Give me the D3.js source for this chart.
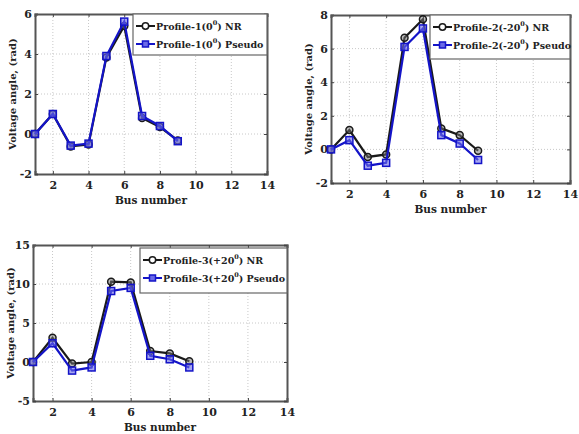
<!DOCTYPE html>
<html>
<head>
<meta charset="utf-8">
<script src="https://cdn.jsdelivr.net/npm/d3@7"></script>
<style>
  body { margin: 0; background: #fff; }
  svg text { font-family: "DejaVu Serif", "Liberation Serif", serif !important; font-weight: bold !important; }
</style>
</head>
<body>
<div id="chart"></div>
<script>
const svgWidth = 579;
const svgHeight = 434;

// bus numbers (shared by all three profiles)
const buses = [1, 2, 3, 4, 5, 6, 7, 8, 9];
const xTicks = [2, 4, 6, 8, 10, 12, 14];

// Profile-1 (0 deg)
const p1NR     = [0, 1.0, -0.62, -0.53, 3.83, 5.4, 0.8, 0.35, -0.32];
const p1Pseudo = [0, 1.0, -0.58, -0.48, 3.9, 5.62, 0.9, 0.4, -0.36];
const p1Ticks  = [-2, 0, 2, 4, 6];

// Profile-2 (-20 deg)
const p2NR     = [0, 1.15, -0.45, -0.3, 6.65, 7.75, 1.25, 0.85, -0.08];
const p2Pseudo = [0, 0.55, -0.97, -0.8, 6.1, 7.2, 0.85, 0.35, -0.63];
const p2Ticks  = [-2, 0, 2, 4, 6, 8];

// Profile-3 (+20 deg)
const p3NR     = [0, 3.1, -0.2, 0, 10.3, 10.2, 1.4, 1.1, 0.1];
const p3Pseudo = [0, 2.4, -1.1, -0.7, 9.1, 9.5, 0.8, 0.35, -0.7];
const p3Ticks  = [-5, 0, 5, 10, 15];

const svg = d3.select("#chart")
  .append("svg")
  .attr("width", svgWidth)
  .attr("height", svgHeight);

const nrColor = "#1a1a1a";
const psColor = "#1414c8";

function drawPanel(opt) {
  const x = d3.scaleLinear().domain([1, 14]).range([opt.left, opt.right]);
  const y = d3.scaleLinear().domain(opt.yDomain).range([opt.bottom, opt.top]);
  const g = svg.append("g");

  // dotted grid
  g.selectAll(".gx").data(xTicks.filter(d => d < 14))
    .enter().append("line")
    .attr("x1", d => x(d)).attr("x2", d => x(d))
    .attr("y1", opt.top).attr("y2", opt.bottom)
    .attr("stroke", "#c8c8c8").attr("stroke-width", 1)
    .attr("stroke-dasharray", "1,2");
  g.selectAll(".gy").data(opt.yTicks.slice(1, -1))
    .enter().append("line")
    .attr("x1", opt.left).attr("x2", opt.right)
    .attr("y1", d => y(d)).attr("y2", d => y(d))
    .attr("stroke", "#c8c8c8").attr("stroke-width", 1)
    .attr("stroke-dasharray", "1,2");

  // axes (plain hyphen for negatives, like the original)
  const fmt = d => String(d);
  const bottomAxis = d3.axisBottom(x).tickValues(xTicks).tickSize(-3).tickPadding(7).tickFormat(fmt);
  const leftAxis = d3.axisLeft(y).tickValues(opt.yTicks).tickSize(-3).tickPadding(3).tickFormat(fmt);
  const topAxis = d3.axisTop(x).tickValues(xTicks).tickSize(-3).tickFormat("");
  const rightAxis = d3.axisRight(y).tickValues(opt.yTicks).tickSize(-3).tickFormat("");

  [
    g.append("g").attr("transform", `translate(0, ${opt.bottom})`).call(bottomAxis),
    g.append("g").attr("transform", `translate(${opt.left}, 0)`).call(leftAxis),
    g.append("g").attr("transform", `translate(0, ${opt.top})`).call(topAxis),
    g.append("g").attr("transform", `translate(${opt.right}, 0)`).call(rightAxis)
  ].forEach(a => {
    a.select(".domain").attr("stroke", "#555").attr("stroke-width", 2);
    a.selectAll(".tick line").attr("stroke", "#444");
    a.selectAll("text").attr("font-size", "11px").attr("fill", "#222");
  });

  // series
  const line = d3.line().x((d, i) => x(buses[i])).y(d => y(d));
  const series = [
    { values: opt.nr, color: nrColor, marker: "circle" },
    { values: opt.ps, color: psColor, marker: "square" }
  ];
  series.forEach(s => {
    g.append("path").datum(s.values)
      .attr("d", line).attr("fill", "none")
      .attr("stroke", s.color).attr("stroke-width", 2.2);
    if (s.marker === "circle") {
      g.selectAll(null).data(s.values).enter().append("circle")
        .attr("cx", (d, i) => x(buses[i])).attr("cy", d => y(d))
        .attr("r", 3.5).attr("fill", "#777").attr("fill-opacity", 0.5)
        .attr("stroke", s.color).attr("stroke-width", 1.5);
    } else {
      g.selectAll(null).data(s.values).enter().append("rect")
        .attr("x", (d, i) => x(buses[i]) - 3.5).attr("y", d => y(d) - 3.5)
        .attr("width", 7).attr("height", 7)
        .attr("fill", "#6a6ae8").attr("fill-opacity", 0.6)
        .attr("stroke", s.color).attr("stroke-width", 1.5);
    }
  });

  // legend
  const lg = g.append("g");
  lg.append("rect")
    .attr("x", opt.legend.x).attr("y", opt.legend.y)
    .attr("width", opt.legend.w).attr("height", opt.legend.h)
    .attr("fill", "#fff").attr("stroke", "#666").attr("stroke-width", 1.2);
  opt.legend.labels.forEach((lab, i) => {
    const ly = opt.legend.y + 12 + i * 18;
    const lx = opt.legend.x + 3;
    const s = series[i];
    lg.append("line").attr("x1", lx).attr("x2", lx + 19)
      .attr("y1", ly).attr("y2", ly)
      .attr("stroke", s.color).attr("stroke-width", 2);
    if (s.marker === "circle") {
      lg.append("circle").attr("cx", lx + 9.5).attr("cy", ly).attr("r", 3.2)
        .attr("fill", "#fff").attr("stroke", s.color).attr("stroke-width", 1.5);
    } else {
      lg.append("rect").attr("x", lx + 6.5).attr("y", ly - 3).attr("width", 6).attr("height", 6)
        .attr("fill", "#6a6ae8").attr("stroke", s.color).attr("stroke-width", 1.5);
    }
    const t = lg.append("text").attr("x", lx + 20).attr("y", ly + 4)
      .attr("font-size", "9.5px").attr("fill", "#222");
    t.append("tspan").text(lab[0]);
    t.append("tspan").attr("dy", -5).attr("font-size", "6.5px").text("0");
    t.append("tspan").attr("dy", 5).text(lab[1]);
  });

  // axis labels
  g.append("text")
    .attr("x", (opt.left + opt.right) / 2).attr("y", opt.bottom + 30)
    .attr("text-anchor", "middle").attr("font-size", "10.5px").attr("fill", "#222")
    .text("Bus number");
  g.append("text")
    .attr("transform", `translate(${opt.left - 19}, ${(opt.top + opt.bottom) / 2}) rotate(-90)`)
    .attr("text-anchor", "middle").attr("font-size", "10px").attr("fill", "#222")
    .text("Voltage angle, (rad)");
}

drawPanel({
  left: 35, right: 267, top: 14, bottom: 174,
  yDomain: [-2, 6], yTicks: p1Ticks, nr: p1NR, ps: p1Pseudo,
  legend: { x: 133, y: 14, w: 134, h: 41,
    labels: [["Profile-1(0", ") NR"], ["Profile-1(0", ") Pseudo"]] }
});

drawPanel({
  left: 331, right: 570, top: 15, bottom: 183,
  yDomain: [-2, 8], yTicks: p2Ticks, nr: p2NR, ps: p2Pseudo,
  legend: { x: 430, y: 15, w: 140, h: 44,
    labels: [["Profile-2(-20", ") NR"], ["Profile-2(-20", ") Pseudo"]] }
});

drawPanel({
  left: 33, right: 287, top: 245, bottom: 401,
  yDomain: [-5, 15], yTicks: p3Ticks, nr: p3NR, ps: p3Pseudo,
  legend: { x: 140, y: 248, w: 147, h: 45,
    labels: [["Profile-3(+20", ") NR"], ["Profile-3(+20", ") Pseudo"]] }
});
</script>
</body>
</html>
